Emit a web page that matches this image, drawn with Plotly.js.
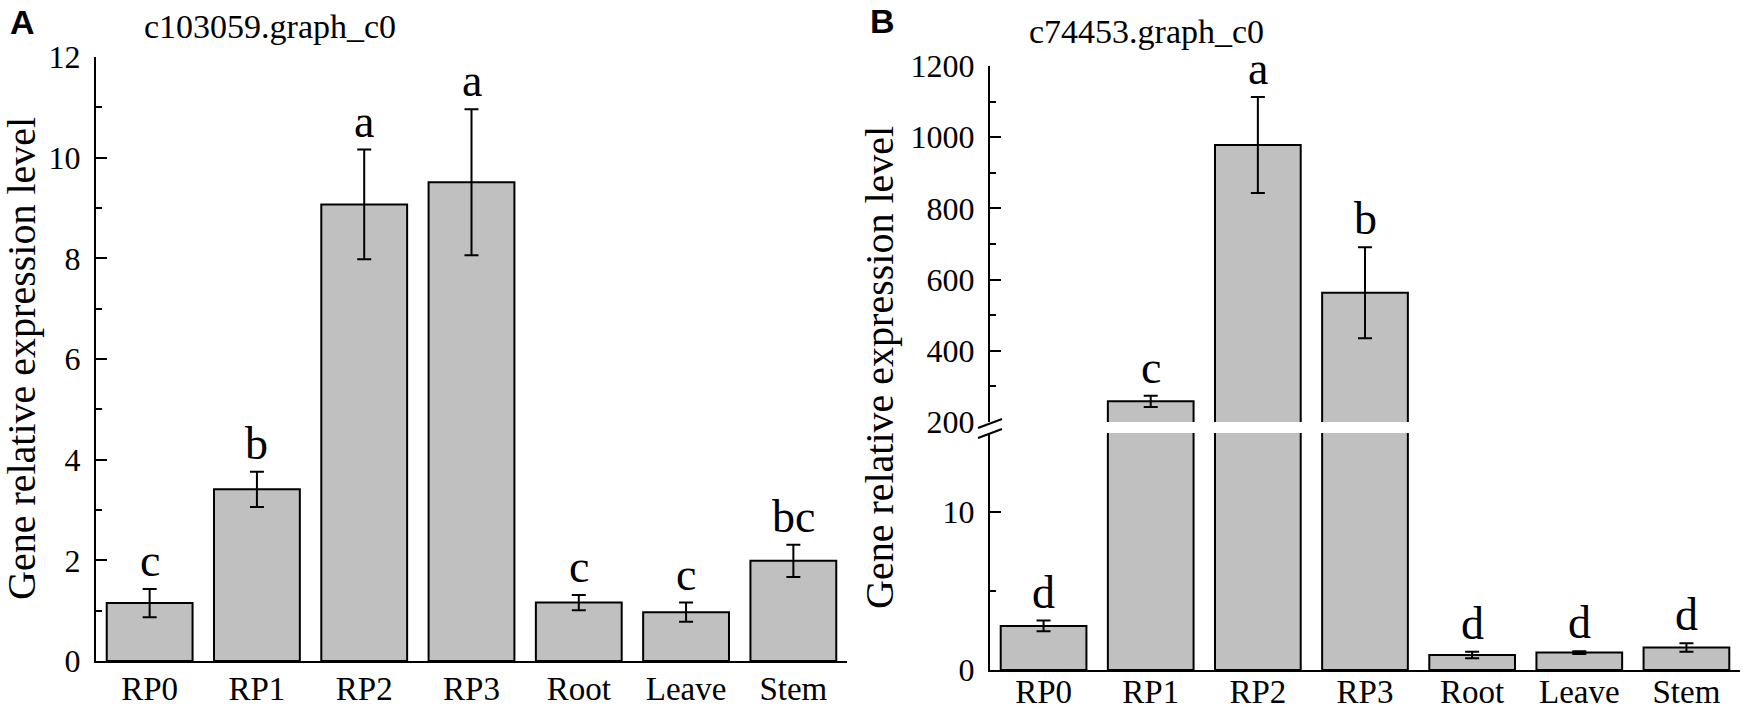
<!DOCTYPE html>
<html>
<head>
<meta charset="utf-8">
<script src="https://cdn.plot.ly/plotly-3.0.1.min.js"></script>
<style>
  html, body { margin: 0; padding: 0; background: #fff; }
  #chart { width: 1750px; height: 714px; }
</style>
</head>
<body>
<div id="chart"></div>
<script>
// values (mean ± error)
const categories = ["RP0", "RP1", "RP2", "RP3", "Root", "Leave", "Stem"];

const meanA = [1.15, 3.41, 9.07, 9.51, 1.16, 0.97, 1.99];
const errA = [0.28, 0.35, 1.09, 1.45, 0.15, 0.19, 0.32];
const lettersA = ["c", "b", "a", "a", "c", "c", "bc"];

const meanB = [2.79, 258, 978, 563, 0.95, 1.10, 1.43];
const errB = [0.34, 16, 135, 128, 0.21, 0.08, 0.27];
const lettersB = ["d", "c", "a", "b", "d", "d", "d"];

const titleA = "c103059.graph_c0";
const titleB = "c74453.graph_c0";
const yTitle = "Gene relative expression level";

// ── helpers ─────────────────────────────────────────────────────────────
const W = 1750, H = 714;
const px = (x) => x / W;          // pixel -> paper x
const py = (y) => 1 - y / H;      // pixel -> paper y (from top)

const SERIF = "Liberation Serif";
const BAR_FILL = "#c0c0c0";
const BREAK_AT = 200;              // upper segment of panel B starts here

function barTrace(y, err, xa, ya) {
    return {
        type: "bar",
        x: categories,
        y: y,
        xaxis: xa,
        yaxis: ya,
        width: 0.8,
        marker: { color: BAR_FILL, line: { color: "#000", width: 2 } },
        error_y: { type: "data", array: err, color: "#000", thickness: 2, width: 7 },
        hoverinfo: "skip",
        showlegend: false,
    };
}

function xAxis(domain, anchor, standoff) {
    return {
        domain: domain, anchor: anchor, type: "category", range: [-0.5, 6.5],
        showline: true, linecolor: "#000", linewidth: 2, ticks: "",
        showgrid: false, zeroline: false, ticklabelstandoff: standoff,
        tickfont: { family: SERIF, size: 33, color: "#000" }, fixedrange: true,
    };
}

function yAxis(domain, anchor, range, dtick, minor) {
    return {
        domain: domain, anchor: anchor, range: range, dtick: dtick, tick0: range[0],
        showline: true, linecolor: "#000", linewidth: 2,
        ticks: "inside", ticklen: 11, tickwidth: 2, tickcolor: "#000",
        minor: Object.assign({ ticks: "inside", ticklen: 6, tickwidth: 2, tickcolor: "#000" }, minor),
        showgrid: false, zeroline: false, ticklabelstandoff: 7,
        tickfont: { family: SERIF, size: 32, color: "#000" }, fixedrange: true,
    };
}

function letter(x, y, text, yref) {
    return {
        xref: yref === "y" ? "x" : "x2", yref: yref, x: x, y: y, text: text,
        xanchor: "center", yanchor: "bottom", yshift: 1, showarrow: false,
        font: { family: SERIF, size: 46, color: "#000" },
    };
}

function paperText(x, y, text, font, opts = {}) {
    return Object.assign({
        xref: "paper", yref: "paper", x: x, y: y, text: text, showarrow: false,
        xanchor: "center", yanchor: "middle", font: font,
    }, opts);
}

// ── traces ──────────────────────────────────────────────────────────────
const traces = [
    barTrace(meanA, errA, "x", "y"),
    barTrace(meanB, errB, "x2", "y2"),   // lower segment of B
    barTrace(meanB, errB, "x2", "y3"),   // upper segment of B
];

// ── annotations ─────────────────────────────────────────────────────────
const annotations = [];
categories.forEach((c, i) => {
    annotations.push(letter(c, meanA[i] + errA[i], lettersA[i], "y"));
    annotations.push(letter(c, meanB[i] + errB[i], lettersB[i], meanB[i] >= BREAK_AT ? "y3" : "y2"));
});

const titleFont = { family: SERIF, size: 34, color: "#000" };
const panelFont = { family: "Liberation Sans", size: 34, color: "#000" };
const yTitleFont = { family: SERIF, size: 40, color: "#000" };

annotations.push(
    paperText(px(22), py(22), "<b>A</b>", panelFont),
    paperText(px(882), py(21), "<b>B</b>", panelFont),
    paperText(px(142), py(27), titleA, titleFont, { xanchor: "left" }),
    paperText(px(1027), py(32), titleB, titleFont, { xanchor: "left" }),
    paperText(px(21), py(359), yTitle, yTitleFont, { textangle: -90 }),
    paperText(px(880), py(368), yTitle, yTitleFont, { textangle: -90 }),
);

// axis-break marks on the left axis of panel B
const slash = (y0, y1) => ({
    type: "line", xref: "paper", yref: "paper",
    x0: px(978), x1: px(1002), y0: py(y0), y1: py(y1),
    line: { color: "#000", width: 2 },
});

const layout = {
    width: W,
    height: H,
    margin: { l: 0, r: 0, t: 0, b: 0 },
    paper_bgcolor: "#fff",
    plot_bgcolor: "rgba(0,0,0,0)",
    bargap: 0.2,
    xaxis: xAxis([px(96), px(847)], "y", -3),
    yaxis: yAxis([py(661), py(57)], "x", [0, 12], 2, { dtick: 1 }),
    xaxis2: xAxis([px(990), px(1740)], "y2", -9),
    yaxis2: yAxis([py(670), py(433)], "x2", [0, 15], 10, { tickmode: "array", tickvals: [5] }),
    yaxis3: yAxis([py(422), py(66)], "x2", [BREAK_AT, 1200], 200, { dtick: 100 }),
    annotations: annotations,
    shapes: [slash(428, 419), slash(438, 429)],
};

Plotly.newPlot("chart", traces, layout, { displayModeBar: false, staticPlot: true });
</script>
</body>
</html>
